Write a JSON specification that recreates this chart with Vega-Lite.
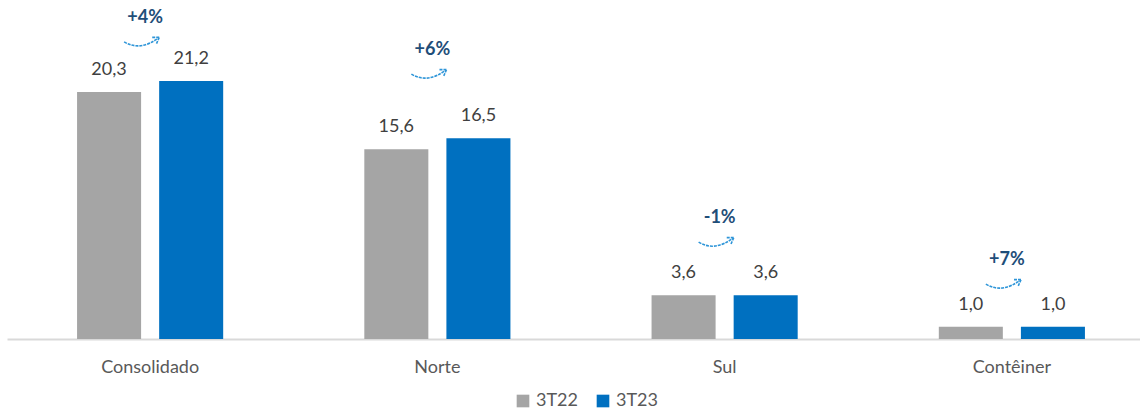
{
  "$schema": "https://vega.github.io/schema/vega-lite/v6.json",
  "width": 1148,
  "height": 339,
  "autosize": {"type": "none"},
  "padding": {"left": 7, "top": 0, "right": 0, "bottom": 73},
  "background": "white",
  "config": {
    "view": {"stroke": null},
    "font": "Lato",
    "locale": {"number": {"decimal": ",", "thousands": ".", "grouping": [3], "currency": ["R$", ""]}}
  },
  "datasets": {
    "bars": [
      {"cat": "Consolidado", "serie": "3T22", "value": 20.3},
      {"cat": "Consolidado", "serie": "3T23", "value": 21.2},
      {"cat": "Norte", "serie": "3T22", "value": 15.6},
      {"cat": "Norte", "serie": "3T23", "value": 16.5},
      {"cat": "Sul", "serie": "3T22", "value": 3.6},
      {"cat": "Sul", "serie": "3T23", "value": 3.6},
      {"cat": "Contêiner", "serie": "3T22", "value": 1.0},
      {"cat": "Contêiner", "serie": "3T23", "value": 1.0}
    ],
    "notes": [
      {"cat": "Consolidado", "pct": "+4%", "pos": 26.4},
      {"cat": "Norte", "pct": "+6%", "pos": 23.75},
      {"cat": "Sul", "pct": "-1%", "pos": 9.94},
      {"cat": "Contêiner", "pct": "+7%", "pos": 6.49}
    ]
  },
  "layer": [
    {
      "data": {"name": "bars"},
      "mark": {"type": "bar"},
      "encoding": {
        "x": {"field": "cat", "type": "nominal", "sort": ["Consolidado", "Norte", "Sul", "Contêiner"],
              "scale": {"paddingInner": 0.4913, "paddingOuter": 0.2439},
              "axis": {"title": null, "labelAngle": 0, "ticks": false, "domainColor": "#D9D9D9", "domainWidth": 2,
                       "labelFontSize": 18, "labelColor": "#595959", "labelPadding": 19, "labelFont": "Lato"}},
        "xOffset": {"field": "serie", "type": "nominal", "scale": {"paddingInner": 0.22, "paddingOuter": 0}},
        "y": {"field": "value", "type": "quantitative", "scale": {"domain": [0, 27.86], "nice": false}, "axis": null},
        "color": {"field": "serie", "type": "nominal",
                  "scale": {"domain": ["3T22", "3T23"], "range": ["#A5A5A5", "#0070C0"]},
                  "legend": {"title": null, "orient": "none", "legendX": 507, "legendY": 392, "direction": "horizontal", "symbolType": "square",
                             "symbolSize": 160, "labelFontSize": 18, "labelColor": "#595959", "labelFont": "Lato",
                             "columnPadding": 16, "symbolStrokeWidth": 0}}
      }
    },
    {
      "data": {"name": "bars"},
      "mark": {"type": "text", "baseline": "alphabetic", "dy": -17, "fontSize": 18, "color": "#404040", "font": "Lato"},
      "encoding": {
        "x": {"field": "cat", "type": "nominal", "sort": ["Consolidado", "Norte", "Sul", "Contêiner"]},
        "xOffset": {"field": "serie", "type": "nominal"},
        "y": {"field": "value", "type": "quantitative"},
        "text": {"field": "value", "type": "quantitative", "format": ".1f"}
      }
    },
    {
      "data": {"name": "notes"},
      "mark": {"type": "text", "baseline": "middle", "dx": -5, "fontSize": 18, "fontWeight": "bold", "color": "#1F4E79", "font": "Lato"},
      "encoding": {
        "x": {"field": "cat", "type": "nominal", "sort": ["Consolidado", "Norte", "Sul", "Contêiner"]},
        "y": {"field": "pos", "type": "quantitative"},
        "text": {"field": "pct", "type": "nominal"}
      }
    },
    {
      "data": {"name": "notes"},
      "mark": {"type": "point", "filled": false, "xOffset": -8, "yOffset": 25, "size": 1296, "strokeWidth": 1.6,
               "strokeDash": [3, 1], "color": "#2E95D8", "opacity": 1,
               "shape": "M -1 -0.05 Q -0.1 0.5 0.95 -0.3 M 0.95 -0.3 L 0.55 -0.3 M 0.95 -0.3 L 0.8 0.05"},
      "encoding": {
        "x": {"field": "cat", "type": "nominal", "sort": ["Consolidado", "Norte", "Sul", "Contêiner"]},
        "y": {"field": "pos", "type": "quantitative"}
      }
    }
  ]
}
